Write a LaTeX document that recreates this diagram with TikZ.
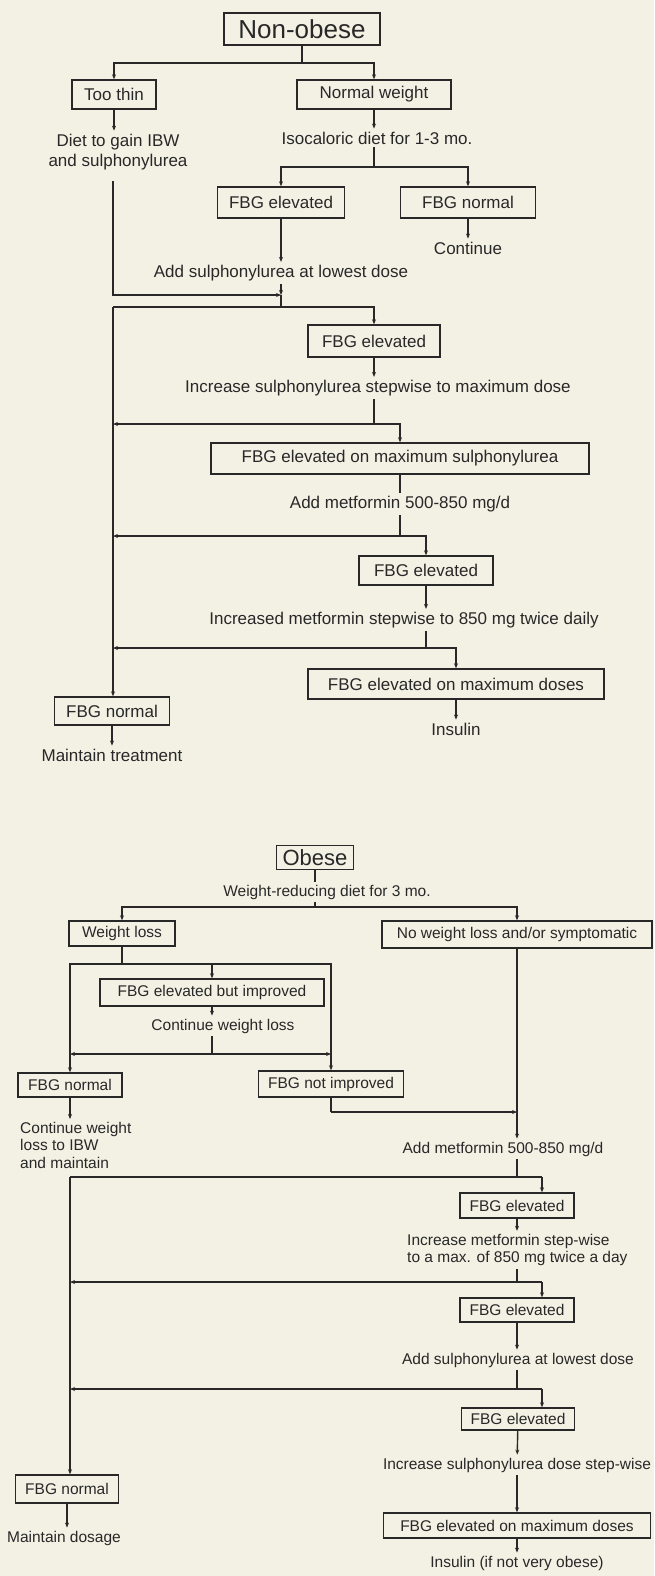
\documentclass[tikz,border=0pt]{standalone}
\usepackage{fontspec}
\setmainfont{Liberation Sans}
\usetikzlibrary{arrows.meta}
\definecolor{paper}{RGB}{243,241,228}
\definecolor{ink}{RGB}{40,40,40}
\newcommand\topfs{\fontsize{17}{20.5}\selectfont}
\newcommand\botfs{\fontsize{15.5}{17.5}\selectfont}

\begin{document}
\begin{tikzpicture}[x=1pt,y=-1pt,color=ink,line width=1.4pt,
    >={Stealth[length=5pt,width=4pt]},
    box/.style={draw,inner sep=0pt,font=\topfs},
    bbox/.style={box,font=\botfs},
    sz/.style 2 args={minimum width=#1,minimum height=#2},
    lbl/.style={inner sep=2.5pt,font=\topfs},
    blbl/.style={lbl,font=\botfs}]
\useasboundingbox (0,0) rectangle (654,1576);
\fill[paper] (0,0) rectangle (654,1576);

\node[box,sz={156}{32},font=\fontsize{26}{28}\selectfont] (nonob) at (302,29) {Non-obese};
\node[box,sz={84}{29}] (thin) at (114,94.5) {Too thin};
\node[box,sz={154}{29}] (normw) at (374,94.5) {Normal weight};
\node[lbl,align=center] (dietg) at (118,152) {Diet to gain IBW\\and sulphonylurea};
\node[lbl] (isoc) at (377,138) {Isocaloric diet for 1-3 mo.};
\node[box,sz={127}{31}] (fbge1) at (281,202.5) {FBG elevated};
\node[box,sz={135}{31}] (fbgn1) at (468,202.5) {FBG normal};
\node[lbl] (cont1) at (468,248) {Continue};
\node[lbl] (addsu1) at (281,273) {Add sulphonylurea at lowest dose};
\node[box,sz={132}{32}] (fbge2) at (374,341) {FBG elevated};
\node[lbl] (incsu1) at (378,388) {Increase sulphonylurea stepwise to maximum dose};
\node[box,sz={378}{31}] (fbgms) at (400,458.5) {FBG elevated on maximum sulphonylurea};
\node[lbl] (addme1) at (400,504) {Add metformin 500-850 mg/d};
\node[box,sz={134}{29}] (fbge3) at (426,570.5) {FBG elevated};
\node[lbl] (incme1) at (404,620) {Increased metformin stepwise to 850 mg twice daily};
\node[box,sz={296}{30}] (fbgmd1) at (456,684) {FBG elevated on maximum doses};
\node[lbl] (insul1) at (456,729) {Insulin};
\node[box,sz={115}{28}] (fbgn2) at (112,711) {FBG normal};
\node[lbl] (maint1) at (112,755) {Maintain treatment};

\coordinate (j0) at (302,63);
\coordinate (j1) at (374,167);
\coordinate (j2) at (281,295);
\coordinate (j3) at (281,307);
\coordinate (j4) at (113,307);
\coordinate (j5) at (374,424);
\coordinate (j6) at (400,536);
\coordinate (j7) at (426,648);

\draw (nonob) -- (j0);
\draw[->] (j0) -| (thin);
\draw[->] (j0) -| (normw);
\draw[->] (thin) -- (thin |- dietg.north);
\draw[->] (normw) -- (normw |- isoc.north);
\draw (normw |- isoc.south) -- (j1);
\draw[->] (j1) -| (fbge1);
\draw[->] (j1) -| (fbgn1);
\draw[->] (fbgn1) -- (cont1);
\draw[->] (fbge1) -- (addsu1);
\draw[->] ([yshift=-8pt]j4 |- dietg.south) |- (j2);
\draw[->] (addsu1) -- (j2);
\draw (j2) -- (j3);
\draw[->] (j4) -| (fbge2);
\draw[->] (j4) -- (j4 |- fbgn2.north);
\draw[->] (fbge2) -- (fbge2 |- incsu1.north);
\draw (fbge2 |- incsu1.south) -- (j5);
\draw[->] (j5) -- (j5 -| j4);
\draw[->] (j5) -| (fbgms);
\draw (fbgms) -- (addme1);
\draw (addme1) -- (j6);
\draw[->] (j6) -- (j6 -| j4);
\draw[->] (j6) -| (fbge3);
\draw[->] (fbge3) -- (fbge3 |- incme1.north);
\draw (fbge3 |- incme1.south) -- (j7);
\draw[->] (j7) -- (j7 -| j4);
\draw[->] (j7) -| (fbgmd1);
\draw[->] (fbgmd1) -- (insul1);
\draw[->] (fbgn2) -- (maint1);

\node[bbox,sz={77}{24},font=\fontsize{22}{24}\selectfont] (obese) at (315,857.5) {Obese};
\node[blbl] (wrd) at (327,892) {Weight-reducing diet for 3 mo.};
\node[bbox,sz={106}{25}] (wloss) at (122,933.5) {Weight loss};
\node[bbox,sz={270}{27}] (nowl) at (517,934.5) {No weight loss and/or symptomatic};
\node[bbox,sz={224}{27}] (fbgbi) at (212,992.5) {FBG elevated but improved};
\node[blbl] (contwl) at (223,1026) {Continue weight loss};
\node[bbox,sz={104}{24}] (fbgn3) at (70,1085) {FBG normal};
\node[bbox,sz={145}{26}] (fbgni) at (331,1084) {FBG not improved};
\node[blbl,align=left,anchor=north west] (contib) at (17,1119) {Continue weight\\loss to IBW\\and maintain};
\node[blbl] (addme2) at (503,1149) {Add metformin 500-850 mg/d};
\node[bbox,sz={114}{25}] (fbge4) at (517,1205.5) {FBG elevated};
\node[blbl,align=left,anchor=west] (incme2) at (404,1250) {Increase metformin step-wise\\to a max. of 850 mg twice a day};
\node[bbox,sz={114}{24}] (fbge5) at (517,1310) {FBG elevated};
\node[blbl] (addsu2) at (518,1360) {Add sulphonylurea at lowest dose};
\node[bbox,sz={113}{22}] (fbge6) at (518,1419) {FBG elevated};
\node[blbl] (incsu2) at (517,1465) {Increase sulphonylurea dose step-wise};
\node[bbox,sz={267}{25}] (fbgmd2) at (517,1525.5) {FBG elevated on maximum doses};
\node[blbl] (insul2) at (517,1563) {Insulin (if not very obese)};
\node[bbox,sz={103}{28}] (fbgn4) at (67,1489) {FBG normal};
\node[blbl] (maint2) at (64,1538) {Maintain dosage};

\coordinate (j8) at (315,907);
\coordinate (j9) at (122,964);
\coordinate (j10) at (212,1054);
\coordinate (j11) at (331,1112);
\coordinate (j12) at (517,1177);
\coordinate (j13) at (70,1177);
\coordinate (j14) at (542,1177);
\coordinate (j15) at (517,1282);
\coordinate (j16) at (542,1282);
\coordinate (j17) at (517,1389);
\coordinate (j18) at (542,1389);

\draw (obese) -- (obese |- wrd.north);
\draw (obese |- wrd.south) -- (j8);
\draw[->] (j8) -| (wloss);
\draw[->] (j8) -| (nowl);
\draw (wloss) -- (j9);
\draw[->] (j9) -| (fbgn3);
\draw[->] (j9) -| (fbgni);
\draw[->] (j9 -| fbgbi) -- (fbgbi);
\draw[->] (fbgbi) -- (fbgbi |- contwl.north);
\draw (fbgbi |- contwl.south) -- (j10);
\draw[->] (j10) -- (j10 -| fbgn3);
\draw[->] (j10) -- (j10 -| fbgni);
\draw (fbgni) -- (j11);
\draw[->] (j11) -- (j11 -| nowl);
\draw[->] (nowl) -- (nowl |- addme2.north);
\draw[->] (fbgn3) -- (fbgn3 |- contib.north);
\draw (nowl |- addme2.south) -- (j12);
\draw (j13) -- (j14);
\draw[->] (j14) -- (j14 |- fbge4.north);
\draw[->] (j13) -- (j13 |- fbgn4.north);
\draw[->] (fbge4) -- (fbge4 |- incme2.north);
\draw (fbge4 |- incme2.south) -- (j15);
\draw[->] (j16) -- (j16 -| j13);
\draw[->] (j16) -- (j16 |- fbge5.north);
\draw[->] (fbge5) -- (fbge5 |- addsu2.north);
\draw (fbge5 |- addsu2.south) -- (j17);
\draw[->] (j18) -- (j18 -| j13);
\draw[->] (j18) -- (j18 |- fbge6.north);
\draw[->] (fbge6) -- (incsu2);
\draw[->] (incsu2) -- (fbgmd2);
\draw[->] (fbgmd2) -- (insul2);
\draw[->] (fbgn4) -- (fbgn4 |- maint2.north);
\end{tikzpicture}
\end{document}
